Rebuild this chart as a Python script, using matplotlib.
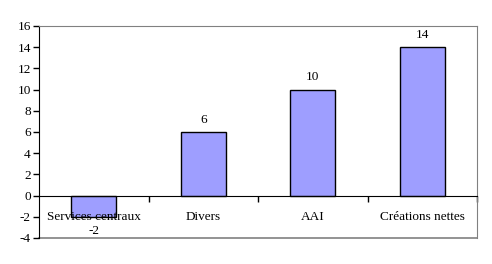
import matplotlib
matplotlib.use("Agg")
import matplotlib.pyplot as plt

categories = ["Services centraux", "Divers", "AAI", "Créations nettes"]
values = [-2, 6, 10, 14]
yticks = list(range(-4, 17, 2))

plt.rcParams['font.family'] = ['Liberation Serif', 'DejaVu Serif']

fig = plt.figure(figsize=(4.92, 2.64), dpi=100)
ax = fig.add_axes([39/492, (264-238)/264, (477-39)/492, (238-26)/264])

x = list(range(len(categories)))
ax.bar(x, values, width=0.41, color="#9E9EFF", edgecolor="black", linewidth=1, zorder=2)

ax.set_xlim(-0.5, len(categories) - 0.5)
ax.set_ylim(-4, 16)
ax.set_yticks(yticks)
ax.set_yticklabels([str(t) for t in yticks], fontsize=9.5)
ax.tick_params(axis='y', direction='out', length=4, width=1, color='black', pad=2)

ax.spines['bottom'].set_position(('data', 0))
ax.spines['bottom'].set_color('black')
ax.spines['bottom'].set_zorder(3)
ax.spines['left'].set_color('black')
ax.spines['top'].set_color('#808080')
ax.spines['right'].set_color('#808080')
ax.axhline(-4, color='#808080', linewidth=1.2, zorder=1, clip_on=False)

ax.set_xticks([i + 0.5 for i in range(len(categories))])
ax.set_xticklabels([])
ax.tick_params(axis='x', direction='out', length=4, width=1, color='black')

for xi, cat in zip(x, categories):
    ax.text(xi, -2.0, cat, ha='center', va='center', fontsize=9.5, zorder=4)

for xi, v in zip(x, values):
    if v >= 0:
        ax.text(xi, v + 0.6, str(v), ha='center', va='bottom', fontsize=9.5)
    else:
        ax.text(xi, v - 1.3, str(v), ha='center', va='center', fontsize=9.5)

fig.savefig("out.png", dpi=100)
